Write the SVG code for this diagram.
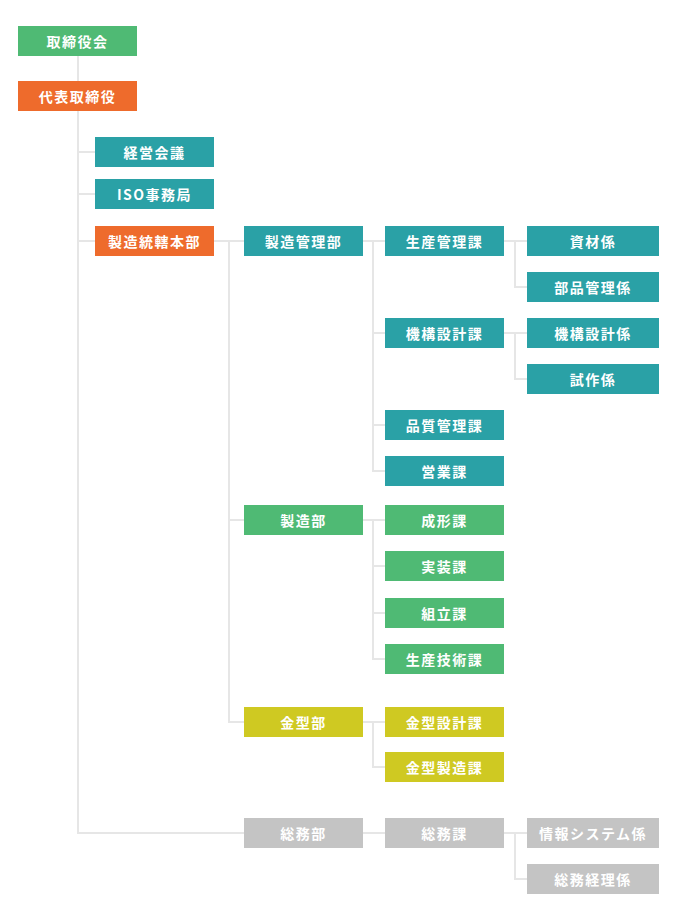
<svg xmlns="http://www.w3.org/2000/svg" width="680" height="916" viewBox="0 0 680 916">
<style>
.t{fill:#2aa1a6}.g{fill:#4fba74}.o{fill:#ee6b2c}.y{fill:#cfc922}.s{fill:#c4c4c4}
text{font-family:"Noto Sans CJK JP","Noto Sans",sans-serif;font-weight:700;font-size:14px;fill:#fff;text-anchor:middle;dominant-baseline:central;letter-spacing:1.5px}
.c{fill:none;stroke:#e6e6e6;stroke-width:2}
</style>
<rect width="680" height="916" fill="#fff"/>
<g id="connectors" class="c">
<path d="M78 56V833H244"/>
<path d="M78 152H95M78 194H95M78 241H95"/>
<path d="M214 241H244M229 241V722H244M229 520H244"/>
<path d="M363 241H385M373 241V471H385M373 333H385M373 425H385"/>
<path d="M504 241H527M515 241V287H527"/>
<path d="M504 333H527M515 333V379H527"/>
<path d="M363 520H385M373 520V659H385M373 566H385M373 613H385"/>
<path d="M363 722H385M373 722V767H385"/>
<path d="M363 833H385M504 833H527M515 833V879H527"/>
</g>
<g id="n1"><rect class="g" x="18" y="26" width="119" height="30"/><text x="77.5" y="41">取締役会</text></g>
<g id="n2"><rect class="o" x="18" y="81" width="119" height="30"/><text x="77.5" y="96">代表取締役</text></g>
<g id="n3"><rect class="t" x="95" y="137" width="119" height="30"/><text x="154.5" y="152">経営会議</text></g>
<g id="n4"><rect class="t" x="95" y="179" width="119" height="30"/><text x="154.5" y="194">ISO事務局</text></g>
<g id="n5"><rect class="o" x="95" y="226" width="119" height="30"/><text x="154.5" y="241">製造統轄本部</text></g>
<g id="n6"><rect class="t" x="244" y="226" width="119" height="30"/><text x="303.5" y="241">製造管理部</text></g>
<g id="n7"><rect class="t" x="385" y="226" width="119" height="30"/><text x="444.5" y="241">生産管理課</text></g>
<g id="n8"><rect class="t" x="527" y="226" width="132" height="30"/><text x="593" y="241">資材係</text></g>
<g id="n9"><rect class="t" x="527" y="272" width="132" height="30"/><text x="593" y="287">部品管理係</text></g>
<g id="n10"><rect class="t" x="385" y="318" width="119" height="30"/><text x="444.5" y="333">機構設計課</text></g>
<g id="n11"><rect class="t" x="527" y="318" width="132" height="30"/><text x="593" y="333">機構設計係</text></g>
<g id="n12"><rect class="t" x="527" y="364" width="132" height="30"/><text x="593" y="379">試作係</text></g>
<g id="n13"><rect class="t" x="385" y="410" width="119" height="30"/><text x="444.5" y="425">品質管理課</text></g>
<g id="n14"><rect class="t" x="385" y="456" width="119" height="30"/><text x="444.5" y="471">営業課</text></g>
<g id="n15"><rect class="g" x="244" y="505" width="119" height="30"/><text x="303.5" y="520">製造部</text></g>
<g id="n16"><rect class="g" x="385" y="505" width="119" height="30"/><text x="444.5" y="520">成形課</text></g>
<g id="n17"><rect class="g" x="385" y="551" width="119" height="30"/><text x="444.5" y="566">実装課</text></g>
<g id="n18"><rect class="g" x="385" y="598" width="119" height="30"/><text x="444.5" y="613">組立課</text></g>
<g id="n19"><rect class="g" x="385" y="644" width="119" height="30"/><text x="444.5" y="659">生産技術課</text></g>
<g id="n20"><rect class="y" x="244" y="707" width="119" height="30"/><text x="303.5" y="722">金型部</text></g>
<g id="n21"><rect class="y" x="385" y="707" width="119" height="30"/><text x="444.5" y="722">金型設計課</text></g>
<g id="n22"><rect class="y" x="385" y="752" width="119" height="30"/><text x="444.5" y="767">金型製造課</text></g>
<g id="n23"><rect class="s" x="244" y="818" width="119" height="30"/><text x="303.5" y="833">総務部</text></g>
<g id="n24"><rect class="s" x="385" y="818" width="119" height="30"/><text x="444.5" y="833">総務課</text></g>
<g id="n25"><rect class="s" x="527" y="818" width="132" height="30"/><text x="593" y="833">情報システム係</text></g>
<g id="n26"><rect class="s" x="527" y="864" width="132" height="30"/><text x="593" y="879">総務経理係</text></g>
</svg>
